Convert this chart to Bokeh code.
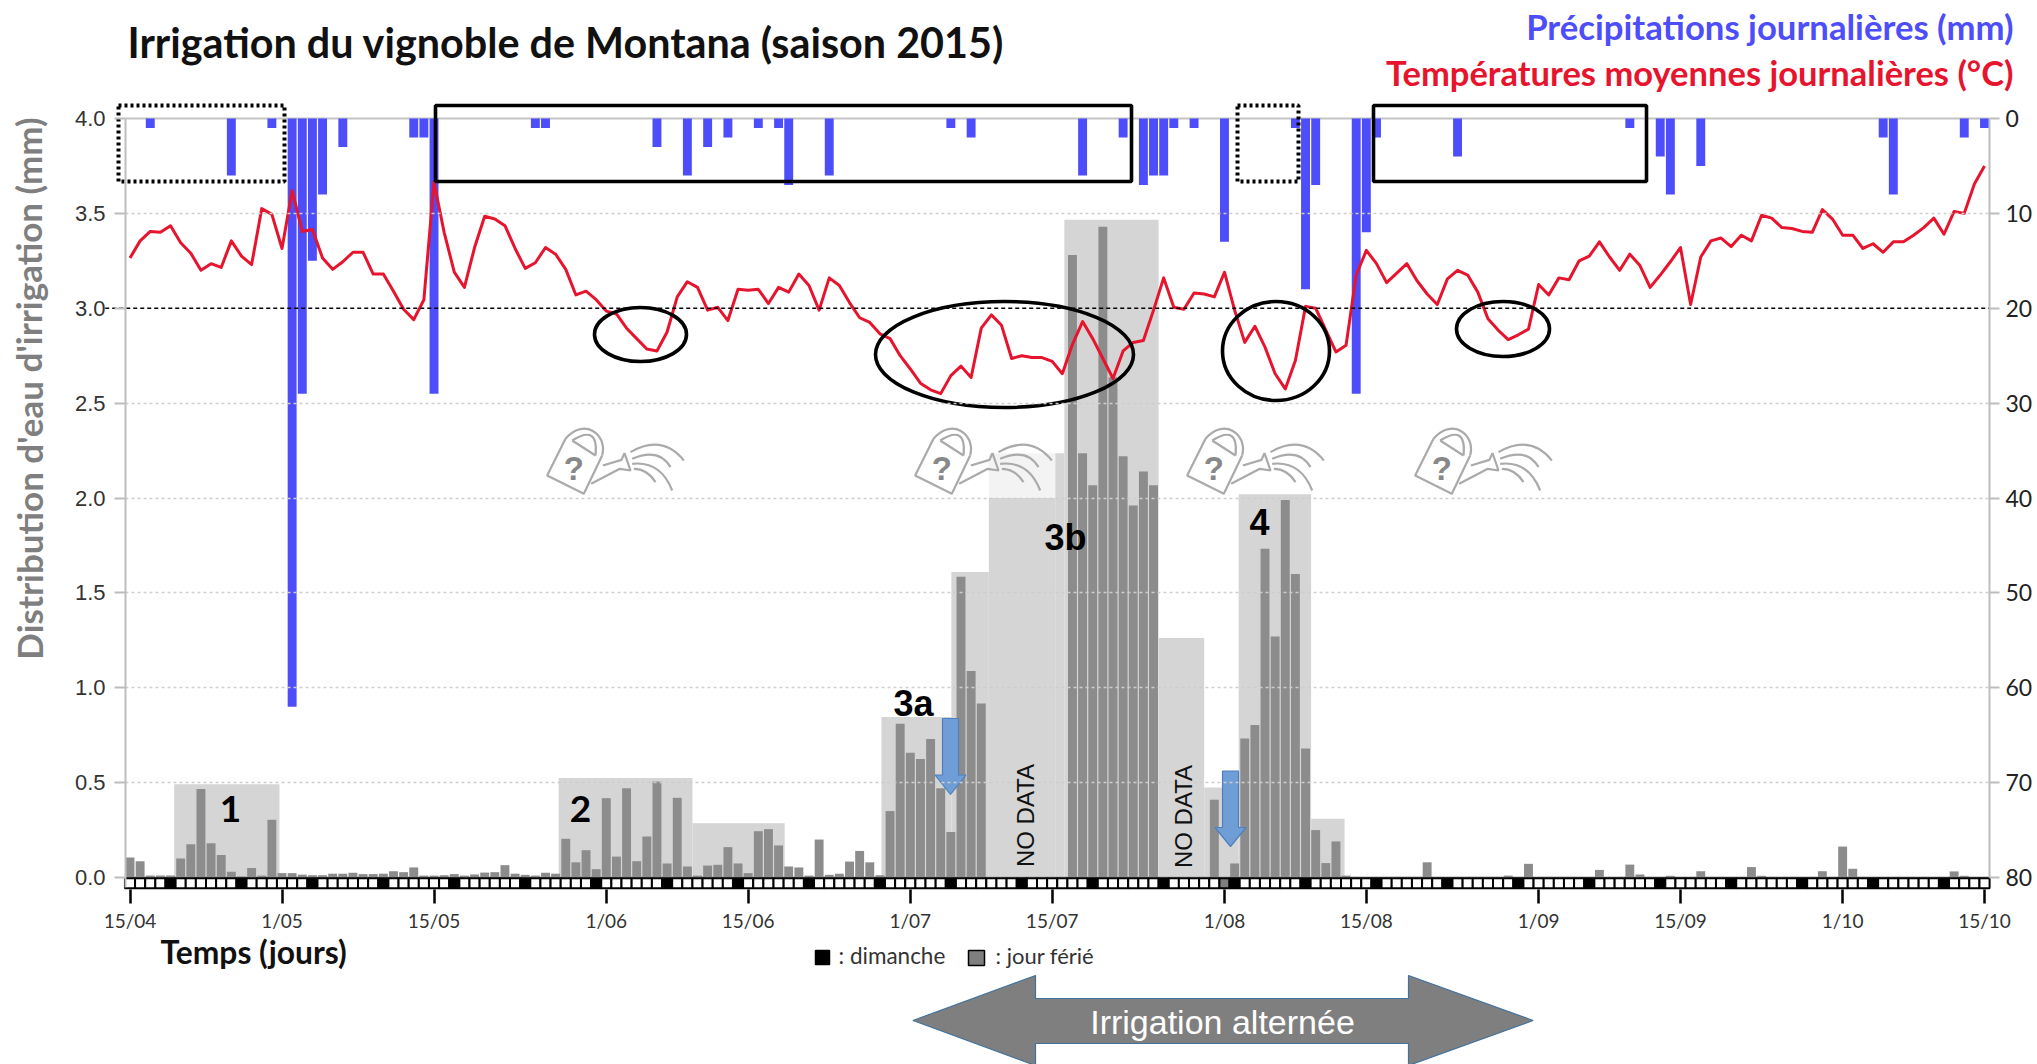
from bokeh.embed import file_html
from bokeh.resources import INLINE
from bokeh.plotting import figure
from bokeh.models import (Range1d, LinearAxis, FixedTicker, Label)

nan = float("nan")

irrigation = [
 .105,.086,.01,.01,.01,.10,.175,.466,.18,.118,
 .03,.005,.05,.01,.304,.023,.023,.015,.012,.012,
 .02,.02,.025,.018,.018,.02,.033,.028,.053,.01,
 .01,.012,.018,.01,.016,.026,.028,.065,.02,.014,
 .01,.025,.02,.204,.08,.144,.044,.418,.11,.47,
 .086,.216,.506,.074,.42,.058,.01,.063,.067,.16,
 .074,.023,.244,.255,.169,.058,.053,.01,.2,.014,
 .02,.084,.14,.08,.012,.35,.81,.657,.624,.73,
 .47,.24,1.585,1.088,.917,nan,nan,nan,nan,nan,
 nan,nan,nan,3.28,2.236,2.067,3.43,2.636,2.22,1.96,
 2.14,2.067,nan,nan,nan,nan,nan,.41,0,.074,
 .732,.804,1.733,1.27,1.99,1.60,.68,.25,.076,.19,
 .01,.003,.003,.003,.003,.003,.003,.003,.08,.003,
 .003,.003,.003,.003,.003,.003,.01,.003,.072,.003,
 .003,.003,.003,.003,.003,.04,.003,.003,.068,.016,
 .003,.003,.009,.003,.003,.033,.003,.003,.003,.003,
 .055,.009,.003,.003,.003,.003,.003,.033,.003,.163,
 .046,.003,.003,.003,.003,.003,.003,.003,.003,.003,
 .032,.009,.003,.003,
]

temperature = [
 14.7,12.9,11.9,12.0,11.3,13.1,14.2,16.0,15.3,15.7,
 12.9,14.5,15.4,9.5,10.1,13.7,7.6,11.9,11.7,14.7,
 15.9,15.1,14.1,14.1,16.4,16.4,18.2,20.1,21.2,19.1,
 6.7,12.0,16.2,17.8,13.6,10.3,10.6,11.3,13.7,15.8,
 15.2,13.6,14.3,15.9,18.6,18.2,19.1,20.3,20.6,22.1,
 23.2,24.3,24.5,22.5,18.8,17.2,17.8,20.2,19.9,21.3,
 18.0,18.1,18.0,19.5,17.8,18.3,16.4,17.6,20.2,16.8,
 17.6,19.4,21.0,21.5,22.7,23.2,25.0,26.4,27.9,28.6,
 29.0,27.1,26.1,27.3,22.1,20.7,21.8,25.3,25.0,25.2,
 25.2,25.6,26.9,23.8,21.4,23.2,25.3,27.4,24.5,23.6,
 23.4,20.2,16.8,19.9,20.1,18.4,18.5,18.8,16.2,20.2,
 23.6,21.9,24.1,26.9,28.5,25.5,19.8,20.0,22.3,24.6,
 23.9,16.5,13.9,15.3,17.3,16.3,15.3,17.1,18.5,19.6,
 16.9,16.0,16.5,18.3,21.1,22.3,23.3,22.8,22.2,17.5,
 18.6,16.8,17.0,15.0,14.5,13.0,14.6,16.0,14.3,15.5,
 17.8,16.5,15.1,13.6,19.6,14.6,12.9,12.6,13.5,12.3,
 12.9,10.2,10.5,11.5,11.6,11.9,12.0,9.6,10.6,12.3,
 12.3,13.7,13.2,14.1,13.0,13.0,12.3,11.5,10.5,12.2,
 9.8,10.0,6.9,5.0,
]

rain_days = [2,10,14,16,17,18,19,21,28,29,30,40,41,52,55,57,59,62,64,65,69,81,83,94,98,
             100,101,102,103,105,108,115,116,117,121,122,123,131,148,151,152,155,173,174,181,183]
rain_mm   = [1,6,1,62,29,15,8,3,2,2,29,1,1,3,6,3,2,1,1,7,6,1,2,6,2,
             7,6,6,1,1,13,1,18,7,29,12,2,4,1,4,8,5,2,8,2,1]

band_start = [4.36,42.3,55.5,74.15,81.05,84.75,91.3,92.2,101.5,106.0,109.4,116.55]
band_end   = [14.75,55.5,64.6,81.05,84.75,91.3,92.2,101.5,106.0,109.4,116.55,119.85]
band_top   = [.492,.524,.286,.846,1.61,2.0,2.236,3.466,1.262,.474,2.02,.31]

tick_days   = [0,15,30,47,61,77,91,108,122,139,153,169,183]
tick_labels = ["15/04","1/05","15/05","1/06","15/06","1/07","15/07","1/08","15/08","1/09","15/09","1/10","15/10"]
irr_ticks   = [0,.5,1,1.5,2,2.5,3,3.5,4]
temp_ticks  = [0,10,20,30,40,50,60,70,80]
holidays    = [108]

assert len(irrigation) == 184 and len(temperature) == 184 and len(rain_days) == len(rain_mm)

BLUE, RED, BAR, BAND = "#4d4dfa", "#e6142d", "#8c8c8c", "#d5d5d5"
LATO, ARIAL = "Lato", "Liberation Sans"

# page pixel <-> data helpers for the decorations
def dx(px): return (px - 129.5) / 10.134
def dy(py): return (877 - py) / 189.75
def tmp(py): return (py - 118) / 9.4875

XL, XR = dx(125), dx(1989)

p = figure(width=2037, height=1064, output_backend="svg", toolbar_location=None,
           x_range=Range1d(dx(0), dx(2037)), y_range=Range1d(dy(1064), dy(0)),
           min_border=0, outline_line_color=None, background_fill_color="white", border_fill_color="white")
p.extra_y_ranges = {"temp": Range1d(tmp(1064), tmp(0))}

# axes, pinned at fixed places in the full-figure frame
ax = p.xaxis[0]
ax.fixed_location = dy(889)
ax.ticker = FixedTicker(ticks=tick_days)
ax.major_label_overrides = {d: t for d, t in zip(tick_days, tick_labels)}
ax.axis_line_color = None
ax.major_tick_line_color = "black"; ax.major_tick_line_width = 2.5
ax.major_tick_in = 0; ax.major_tick_out = 14
ax.minor_tick_line_color = None
ax.major_label_standoff = 5
ax.major_label_text_font = LATO; ax.major_label_text_font_size = "19px"; ax.major_label_text_color = "#333333"

ay = p.yaxis[0]
ay.fixed_location = XL
ay.ticker = FixedTicker(ticks=irr_ticks)
ay.bounds = (-0.055, 4)
ay.major_label_overrides = {v: f"{v:.1f}" for v in irr_ticks}
ay.axis_line_color = "#bdbdbd"; ay.axis_line_width = 2
ay.major_tick_line_color = "#bdbdbd"; ay.major_tick_line_width = 2
ay.major_tick_in = 0; ay.major_tick_out = 11
ay.minor_tick_line_color = None
ay.major_label_standoff = 9
ay.major_label_text_font = ARIAL; ay.major_label_text_font_size = "22px"; ay.major_label_text_color = "#333333"

ar = LinearAxis(y_range_name="temp", ticker=FixedTicker(ticks=temp_ticks), bounds=(0, 80), fixed_location=XR)
ar.axis_line_color = "#bdbdbd"; ar.axis_line_width = 2
ar.major_tick_line_color = "#bdbdbd"; ar.major_tick_line_width = 2
ar.major_tick_in = 0; ar.major_tick_out = 10
ar.minor_tick_line_color = None
ar.major_label_standoff = 6
ar.major_label_text_font = LATO; ar.major_label_text_font_size = "23px"; ar.major_label_text_color = "#222222"
p.add_layout(ar, "right")

# grid
p.xgrid.visible = False
g = p.ygrid[0]
g.ticker = FixedTicker(ticks=[.5, 1, 1.5, 2, 2.5, 3.5])
g.cross_bounds = (XL, XR)
g.grid_line_color = "#cdcdcd"; g.grid_line_dash = "3 3"; g.grid_line_width = 1.5
g.level = "glyph"
p.segment(x0=XL, x1=XR, y0=4, y1=4, line_color="#c4c4c4", line_width=2)
p.segment(x0=XL, x1=XR, y0=0, y1=0, line_color="#b0b0b0", line_width=2)

# shaded irrigation periods
p.quad(left=band_start, right=band_end, bottom=[0]*len(band_top), top=band_top,
       fill_color=BAND, line_color=None, level="underlay")
p.quad(left=band_start[5], right=band_end[5], bottom=band_top[5], top=band_top[6],
       fill_color="#f3f3f3", line_color=None, level="underlay")

# irrigation bars
days = list(range(len(irrigation)))
p.vbar(x=[d for d, v in zip(days, irrigation) if v == v],
       top=[v for v in irrigation if v == v], bottom=0, width=.88,
       fill_color=BAR, line_color=None)

# calendar row
cell_fill = ["#7f7f7f" if d in holidays else ("black" if (d - 4) % 7 == 0 else "white") for d in days]
p.rect(x=days, y=dy(882.7), width=1, height=10/189.75, fill_color=cell_fill,
       line_color="black", line_width=2)

# precipitation and temperature
p.vbar(x=rain_days, top=0, bottom=rain_mm, width=.88, y_range_name="temp",
       fill_color=BLUE, line_color=None)
p.line(days, temperature, y_range_name="temp", line_color=RED, line_width=3, line_join="round")

p.segment(x0=XL-2, x1=XR, y0=3, y1=3, line_color="black", line_width=1.3, line_dash="4 3")

# boxes (solid = no rain, dotted = little rain)
for x0, x1, dash, lw in [(118, 284, "3 3", 4), (435, 1131, "solid", 3.6), (1237, 1298, "3 3", 4), (1373, 1646, "solid", 3.6)]:
    p.quad(left=dx(x0), right=dx(x1), top=dy(105), bottom=dy(181), fill_color=None,
           line_color="black", line_width=lw, line_dash=dash)

# ellipses around hot periods
for x0, x1, y0, y1 in [(594, 686, 307, 361), (875, 1133, 301, 407), (1222, 1329, 301, 400), (1456, 1549, 301, 356)]:
    p.ellipse(x=dx((x0 + x1)/2), y=dy((y0 + y1)/2), width=(x1 - x0)/10.134, height=(y1 - y0)/189.75,
              fill_color=None, line_color="black", line_width=3.6)

# watering cans
CAN = "#aaaaaa"
def Z(x, off): return dx(520 + x/3 + off)
def W(y): return dy(400 + y/3)
for off in [0, 368, 640, 868]:
    poly = [(135,115),(80,225),(190,280),(245,165)]
    p.line([Z(a, off) for a, b in poly], [W(b) for a, b in poly], line_color=CAN, line_width=2.2)
    p.bezier(x0=Z(245,off), y0=W(165), x1=Z(135,off), y1=W(115), cx0=Z(262,off), cy0=W(100),
             cx1=Z(190,off), cy1=W(50), line_color=CAN, line_width=2.2)
    p.quadratic(x0=Z(155,off), y0=W(120), x1=Z(225,off), y1=W(165), cx=Z(235,off), cy=W(70),
                line_color=CAN, line_width=2.2)
    p.line([Z(a,off) for a in (155,225)], [W(b) for b in (120,165)], line_color=CAN, line_width=2.2)
    sp = [(247,195),(303,178),(312,158),(330,210),(298,205),(212,250)]
    p.line([Z(a, off) for a, b in sp], [W(b) for a, b in sp], line_color=CAN, line_width=2.2)
    for s in [(330,155,490,180,425,100),(335,175,450,200,415,140),(335,190,455,270,420,180),(340,205,405,245,380,205)]:
        p.quadratic(x0=Z(s[0],off), y0=W(s[1]), x1=Z(s[2],off), y1=W(s[3]), cx=Z(s[4],off), cy=W(s[5]),
                    line_color=CAN, line_width=2.2)
    p.add_layout(Label(x=Z(160,off), y=W(203), text="?", text_font=ARIAL, text_font_style="bold",
                       text_font_size="33px", text_color="#888888", text_align="center", text_baseline="middle"))

# blue arrows
def down_arrow(cx, top, base, tip, shaft=8, head=15.5):
    xs = [cx-shaft, cx+shaft, cx+shaft, cx+head, cx, cx-head, cx-shaft]
    ys = [top, top, base, base, tip, base, base]
    p.patch([dx(v) for v in xs], [dy(v) for v in ys], fill_color="#6f9dd6", line_color="#4f7fbf", line_width=1.2)
down_arrow(950, 718, 774.5, 794)
down_arrow(1230, 770.5, 827, 846)

# big double arrow
dbl_x = [912.5, 1035, 1035, 1408, 1408, 1532.6, 1408, 1408, 1035, 1035]
dbl_y = [1020, 975, 998, 998, 975, 1020, 1065, 1043, 1043, 1065]
p.patch([dx(v) for v in dbl_x], [dy(v) for v in dbl_y], fill_color="#7f7f7f",
        line_color="#41719c", line_width=1.2)

# legend squares
for x0, x1, y0, y1, c in [(815, 829, 950, 964, "black"), (968, 984, 950, 965, "#7f7f7f")]:
    p.patch([dx(x0), dx(x1), dx(x1), dx(x0)], [dy(y0), dy(y0), dy(y1), dy(y1)],
            fill_color=c, line_color="black", line_width=1.5)

def text(px, py, s, font=LATO, size=20, color="black", bold=False, align="left", angle=0):
    p.add_layout(Label(x=dx(px), y=dy(py), text=s, text_font=font, text_font_size=f"{size}px",
                       text_color=color, text_font_style="bold" if bold else "normal",
                       text_align=align, text_baseline="middle", angle=angle))

text(127, 41, "Irrigation du vignoble de Montana (saison 2015)", size=41.3, bold=True, color="#111111")
text(2013, 26, "Précipitations journalières (mm)", size=34.7, bold=True, color=BLUE, align="right")
text(2013, 72, "Températures moyennes journalières (°C)", size=34.5, bold=True, color=RED, align="right")
text(28, 388, "Distribution d'eau d'irrigation (mm)", size=35, bold=True, color="#7f7f7f", align="center", angle=1.5708)
text(160, 951, "Temps (jours)", size=31.8, bold=True, color="#111111")
text(838, 955, ": dimanche", size=22.5, color="#333333")
text(995, 955, ": jour férié", size=22, color="#333333")
text(1222, 1021, "Irrigation alternée", font=ARIAL, size=34, color="white", align="center")
text(230, 808, "1", size=37, bold=True, align="center")
text(580, 808, "2", size=37, bold=True, align="center")
text(913, 703, "3a", font=ARIAL, size=36, bold=True, align="center")
text(1065, 537, "3b", font=ARIAL, size=36, bold=True, align="center")
text(1259, 521, "4", font=ARIAL, size=36, bold=True, align="center")
text(1025, 815, "NO DATA", font=ARIAL, size=24, color="#111111", align="center", angle=1.5708)
text(1183, 816, "NO DATA", font=ARIAL, size=24, color="#111111", align="center", angle=1.5708)

open("out.html", "w").write(file_html(p, INLINE))
